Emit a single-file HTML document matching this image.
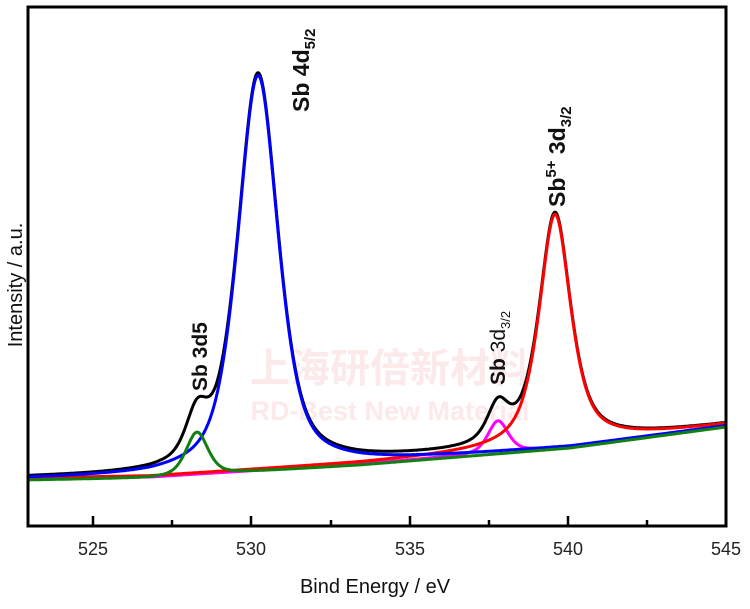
<!DOCTYPE html>
<html><head><meta charset="utf-8"><style>
html,body{margin:0;padding:0;background:#fff;}
svg{display:block;font-family:"Liberation Sans",Arial,sans-serif;}
</style></head><body>
<svg id="s" width="750" height="609" viewBox="0 0 750 609" xmlns="http://www.w3.org/2000/svg">
<rect width="750" height="609" fill="#fff"/>
<text x="390" y="382" font-size="40" font-weight="bold" fill="#fce9e9" text-anchor="middle" font-family="'Liberation Sans','Noto Sans CJK SC',sans-serif">上海研倍新材料</text>
<text x="390" y="420" font-size="27" font-weight="bold" fill="#fce9e9" text-anchor="middle">RD-Best New Material</text>
<g id="curves" fill="none" stroke-width="3" stroke-linejoin="round"></g>
<rect x="28" y="7" width="698" height="519" fill="none" stroke="#000" stroke-width="3"/>
<g stroke="#000" stroke-width="2.5">
<line x1="93" y1="526" x2="93" y2="516"/><line x1="172" y1="526" x2="172" y2="520"/>
<line x1="251" y1="526" x2="251" y2="516"/><line x1="331" y1="526" x2="331" y2="520"/>
<line x1="410" y1="526" x2="410" y2="516"/><line x1="489" y1="526" x2="489" y2="520"/>
<line x1="568" y1="526" x2="568" y2="516"/><line x1="647" y1="526" x2="647" y2="520"/>
</g>
<g font-size="18" fill="#222" text-anchor="middle">
<text x="93" y="555">525</text><text x="251" y="555">530</text><text x="410" y="555">535</text><text x="568" y="555">540</text><text x="726" y="555">545</text>
</g>
<text x="375" y="593" font-size="20" fill="#111" text-anchor="middle">Bind Energy / eV</text>
<text transform="translate(22,285) rotate(-90)" font-size="20" fill="#111" text-anchor="middle">Intensity / a.u.</text>
<g font-size="23" font-weight="bold" fill="#111">
<text transform="translate(309,112) rotate(-90)">Sb 4d<tspan font-size="15" dy="6">5/2</tspan></text>
<text transform="translate(565,207) rotate(-90)">Sb<tspan font-size="15" dy="-9">5+</tspan><tspan dy="9"> 3d</tspan><tspan font-size="15" dy="6">3/2</tspan></text>
<text font-size="21" transform="translate(207,391) rotate(-90)">Sb 3d5</text>
<text font-size="21" transform="translate(505,385) rotate(-90)">Sb <tspan font-weight="normal">3d</tspan><tspan font-weight="normal" font-size="13" dy="5">3/2</tspan></text>
</g>
<script>
(function(){
function base(x){var xs=[28,150,360,570,726],ys=[479,477,464,447,426];
 for(var i=0;i<4;i++){if(x<=xs[i+1]){var t=(x-xs[i])/(xs[i+1]-xs[i]);return ys[i]+t*(ys[i+1]-ys[i]);}}return 426;}
function pv(x,c,h,w,e){var d=x-c;var L=w*w/(w*w+d*d);var G=Math.exp(-Math.LN2*d*d/(w*w));return h*(e*L+(1-e)*G);}
function B(x){return pv(x,258,395,24,0.55);}
function R(x){return pv(x,555,233,19,0.7);}
function Gr(x){return pv(x,197,43,13,0.5);}
function M(x){return pv(x,498,32,12,0.5);}
function extra(x){return 4*Math.exp(-Math.pow((x-500)/25,2));}
function path(f){var s="";for(var x=28;x<=726;x+=1){s+=(x==28?"M":"L")+x+","+f(x).toFixed(1);}return s;}
var g=document.getElementById("curves");
function add(col,f){var p=document.createElementNS("http://www.w3.org/2000/svg","path");p.setAttribute("d",path(f));p.setAttribute("stroke",col);g.appendChild(p);}
add("#000",function(x){return base(x)-B(x)-R(x)-Gr(x)-M(x)-1-extra(x);});
add("#ff00ff",function(x){return base(x)-M(x);});
add("#ff0000",function(x){return base(x)-R(x)-1;});
add("#0000ff",function(x){return base(x)-B(x);});
add("#108010",function(x){return base(x)-Gr(x)+1;});
})();
</script>
</svg>
</body></html>
